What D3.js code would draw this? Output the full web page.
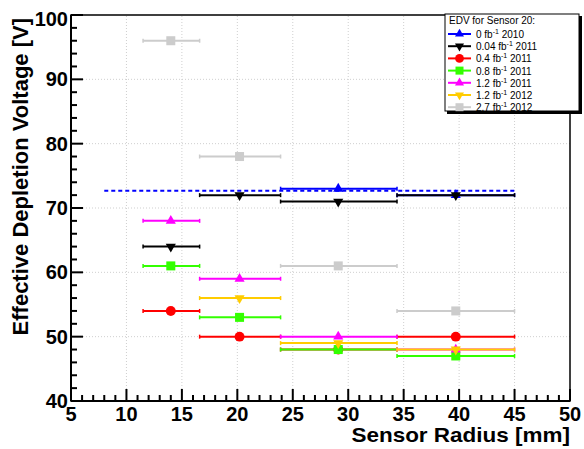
<!DOCTYPE html>
<html>
<head>
<meta charset="utf-8">
<script src="https://cdn.jsdelivr.net/npm/d3@7"></script>
<style>
  body { margin: 0; background: #fff; }
  svg { font-family: "Liberation Sans", Arial, sans-serif; }
</style>
</head>
<body>
<div id="chart"></div>
<script>
// radial bins of the sensor
var binLo  = [11.5, 16.6, 23.9, 34.4];
var binHi  = [16.6, 23.9, 34.4, 45.0];
var binMid = [14.0, 20.2, 29.1, 39.7];

// depletion voltage per bin (null = no point)
var lumi    = ["0", "0.04", "0.4", "0.8", "1.2", "1.2", "2.7"];
var years   = ["2010", "2011", "2011", "2011", "2011", "2012", "2012"];
var vBlue    = [null, null, 73, 72];
var vBlack   = [64, 72, 71, 72];
var vRed     = [54, 50, 48, 50];
var vGreen   = [61, 53, 48, 47];
var vMagenta = [68, 59, 50, 48];
var vYellow  = [null, 56, 49, 48];
var vGray    = [96, 78, 61, 54];

// dashed average line
var avgX = [8, 45];
var avgV = 72.7;

var xTicks = [5, 10, 15, 20, 25, 30, 35, 40, 45, 50];
var yTicks = [40, 50, 60, 70, 80, 90, 100];

var series = [
  {vals: vBlue,    color: "#0000ff", marker: "up"},
  {vals: vBlack,   color: "#000000", marker: "down"},
  {vals: vRed,     color: "#ff0000", marker: "circle"},
  {vals: vGreen,   color: "#33ff00", marker: "square"},
  {vals: vMagenta, color: "#ff00ff", marker: "up"},
  {vals: vYellow,  color: "#ffcc00", marker: "down"},
  {vals: vGray,    color: "#cccccc", marker: "square"}
];

var W = 584, H = 449;
var m = {left: 71, right: 14, top: 15, bottom: 48};

var svg = d3.select("#chart").append("svg")
    .attr("width", W).attr("height", H);

var x = d3.scaleLinear().domain([5, 50]).range([m.left, W - m.right]);
var y = d3.scaleLinear().domain([40, 100]).range([H - m.bottom, m.top]);

// grid
svg.append("g").selectAll("line")
    .data(xTicks.filter(function (d) { return d > 5 && d < 50; }))
    .enter().append("line")
    .attr("x1", function (d) { return x(d); }).attr("x2", function (d) { return x(d); })
    .attr("y1", y(40)).attr("y2", y(100))
    .attr("stroke", "#cfcfcf").attr("stroke-dasharray", "1,2");
svg.append("g").selectAll("line")
    .data(yTicks.filter(function (d) { return d > 40 && d < 100; }))
    .enter().append("line")
    .attr("y1", function (d) { return y(d); }).attr("y2", function (d) { return y(d); })
    .attr("x1", x(5)).attr("x2", x(50))
    .attr("stroke", "#cfcfcf").attr("stroke-dasharray", "1,2");

// frame
svg.append("rect")
    .attr("x", x(5)).attr("y", y(100))
    .attr("width", x(50) - x(5)).attr("height", y(40) - y(100))
    .attr("fill", "none").attr("stroke", "#000").attr("stroke-width", 1.5);

// tick labels
svg.append("g").selectAll("text")
    .data(xTicks).enter().append("text")
    .attr("x", function (d) { return x(d); })
    .attr("y", y(40) + 20)
    .attr("text-anchor", "middle")
    .attr("font-size", 20).attr("font-weight", "bold")
    .text(function (d) { return d; });
svg.append("g").selectAll("text")
    .data(yTicks).enter().append("text")
    .attr("x", x(5) - 3)
    .attr("y", function (d) { return y(d) + (d === 100 ? 11 : 7); })
    .attr("text-anchor", "end")
    .attr("font-size", 20).attr("font-weight", "bold")
    .text(function (d) { return d; });

// axis titles (reference font is a bit wider than Liberation Sans)
svg.append("text")
    .attr("transform", "translate(" + x(50) + ",442) scale(1.125,1)")
    .attr("text-anchor", "end")
    .attr("font-size", 20).attr("font-weight", "bold")
    .text("Sensor Radius [mm]");
svg.append("text")
    .attr("transform", "translate(28,18) rotate(-90)")
    .attr("text-anchor", "end")
    .attr("font-size", 22).attr("font-weight", "bold")
    .text("Effective Depletion Voltage [V]");

// dashed blue average line
svg.append("line")
    .attr("x1", x(avgX[0])).attr("x2", x(avgX[1]))
    .attr("y1", y(avgV)).attr("y2", y(avgV))
    .attr("stroke", "#0000ff").attr("stroke-width", 2)
    .attr("stroke-dasharray", "4,3");

function drawMarker(g, type, cx, cy, color, s) {
  if (type === "circle") {
    g.append("circle").attr("cx", cx).attr("cy", cy).attr("r", s * 0.55).attr("fill", color);
  } else if (type === "square") {
    g.append("rect").attr("x", cx - s / 2).attr("y", cy - s / 2)
      .attr("width", s).attr("height", s).attr("fill", color);
  } else {
    var sym = d3.symbol().type(d3.symbolTriangle).size(s * s * 0.55);
    g.append("path").attr("d", sym())
      .attr("transform", "translate(" + cx + "," + cy + ")" + (type === "down" ? " rotate(180)" : ""))
      .attr("fill", color);
  }
}

// series: horizontal bin error bars with markers
series.forEach(function (s) {
  var g = svg.append("g");
  s.vals.forEach(function (v, i) {
    if (v === null) return;
    var yy = y(v);
    g.append("line")
      .attr("x1", x(binLo[i])).attr("x2", x(binHi[i]))
      .attr("y1", yy).attr("y2", yy)
      .attr("stroke", s.color).attr("stroke-width", 2);
    [binLo[i], binHi[i]].forEach(function (e) {
      g.append("line")
        .attr("x1", x(e)).attr("x2", x(e))
        .attr("y1", yy - 2).attr("y2", yy + 2)
        .attr("stroke", s.color).attr("stroke-width", 1.5);
    });
    drawMarker(g, s.marker, x(binMid[i]), yy, s.color, 9);
  });
});

// legend
var lg = svg.append("g").attr("transform", "translate(445,14)");
lg.append("rect").attr("x", 2).attr("y", 2).attr("width", 135).attr("height", 98).attr("fill", "#000");
lg.append("rect").attr("x", 0).attr("y", 0).attr("width", 134).attr("height", 97)
    .attr("fill", "#fff").attr("stroke", "#000").attr("stroke-width", 1);
lg.append("text").attr("x", 4).attr("y", 10)
    .attr("font-size", 10).text("EDV for Sensor 20:");

series.forEach(function (s, i) {
  var yy = 20 + i * 12.2;
  lg.append("line").attr("x1", 3).attr("x2", 26).attr("y1", yy).attr("y2", yy)
    .attr("stroke", s.color).attr("stroke-width", 2);
  drawMarker(lg, s.marker, 14.5, yy, s.color, 8);
  var t = lg.append("text").attr("x", 31).attr("y", yy + 4).attr("font-size", 10);
  t.append("tspan").text(lumi[i] + " fb");
  t.append("tspan").attr("dy", -4).attr("font-size", 7).text("-1");
  t.append("tspan").attr("dy", 4).text(" " + years[i]);
});

// axis ticks, pointing inside
svg.append("g").selectAll("line")
    .data(d3.range(5, 51, 1)).enter().append("line")
    .attr("x1", function (d) { return x(d); }).attr("x2", function (d) { return x(d); })
    .attr("y1", y(40))
    .attr("y2", function (d) { return y(40) - (d % 5 === 0 ? 12 : 6); })
    .attr("stroke", "#000").attr("stroke-width", 2);
svg.append("g").selectAll("line")
    .data(d3.range(40, 101, 2)).enter().append("line")
    .attr("y1", function (d) { return y(d); }).attr("y2", function (d) { return y(d); })
    .attr("x1", x(5))
    .attr("x2", function (d) { return x(5) + (d % 10 === 0 ? 12 : 6); })
    .attr("stroke", "#000").attr("stroke-width", 2);
svg.append("line").attr("x1", x(5)).attr("x2", x(50)).attr("y1", y(40)).attr("y2", y(40))
    .attr("stroke", "#000").attr("stroke-width", 2);
svg.append("line").attr("x1", x(5)).attr("x2", x(5)).attr("y1", y(40)).attr("y2", y(100))
    .attr("stroke", "#000").attr("stroke-width", 2);
</script>
</body>
</html>
